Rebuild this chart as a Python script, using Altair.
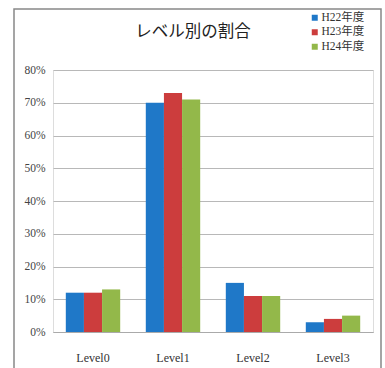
import altair as alt
import pandas as pd

levels = ["Level0", "Level1", "Level2", "Level3"]
years = ["H22年度", "H23年度", "H24年度"]
h22 = [0.12, 0.70, 0.15, 0.03]
h23 = [0.12, 0.73, 0.11, 0.04]
h24 = [0.13, 0.71, 0.11, 0.05]
colors = ["#1F78C8", "#CC3D3D", "#93B84A"]
title_text = "レベル別の割合"

rows = []
for yr, vals in zip(years, [h22, h23, h24]):
    for lv, v in zip(levels, vals):
        rows.append({"level": lv, "year": yr, "value": v})
df = pd.DataFrame(rows)

FONT = "Liberation Serif, Noto Sans CJK JP"

bars = alt.Chart(df).mark_bar().encode(
    x=alt.X("level:N", sort=levels, title=None,
            scale=alt.Scale(paddingInner=0.32, paddingOuter=0.16),
            axis=alt.Axis(labelAngle=0, ticks=False, domain=True, domainColor="#AAAAAA",
                          labelPadding=20, labelFontSize=12, labelFont=FONT, labelColor="#333333")),
    xOffset=alt.XOffset("year:N", sort=years),
    y=alt.Y("value:Q", title=None,
            scale=alt.Scale(domain=[0, 0.8], nice=False),
            axis=alt.Axis(format=".0%", values=[0, 0.1, 0.2, 0.3, 0.4, 0.5, 0.6, 0.7, 0.8],
                          ticks=False, domain=False, gridColor="#B8B8B8", gridWidth=1.2,
                          labelPadding=8, labelFontSize=11.5, labelFont=FONT, labelColor="#444444")),
    color=alt.Color("year:N", sort=years, scale=alt.Scale(domain=years, range=colors),
                    legend=alt.Legend(title=None, orient="none", legendX=256, legendY=-58,
                                      symbolType="square", symbolSize=36, symbolStrokeWidth=0,
                                      labelFont=FONT, labelFontSize=11.5, labelColor="#333333",
                                      rowPadding=1.5, symbolOffset=0, labelOffset=1)),
)

title = alt.Chart(pd.DataFrame({"t": [title_text]})).mark_text(
    font="Noto Sans CJK JP", fontSize=16.5, color="#222222", align="center", baseline="middle"
).encode(text="t:N", x=alt.value(140), y=alt.value(-38))

frame = alt.Chart(pd.DataFrame({"t": [0]})).mark_rect(fill=None, stroke="#888888", strokeWidth=1.5).encode(
    x=alt.value(-39), x2=alt.value(328), y=alt.value(-61), y2=alt.value(300)
)

chart = alt.layer(bars, title, frame).properties(
    width=320, height=262,
    autosize=alt.AutoSizeParams(type="none"),
    padding={"left": 53, "top": 70, "right": 12, "bottom": 36},
).configure_view(stroke="#C8C8C8", strokeWidth=1.5).configure(background="white")

chart.save("out.html", embed_options={"renderer": "svg", "actions": False})
